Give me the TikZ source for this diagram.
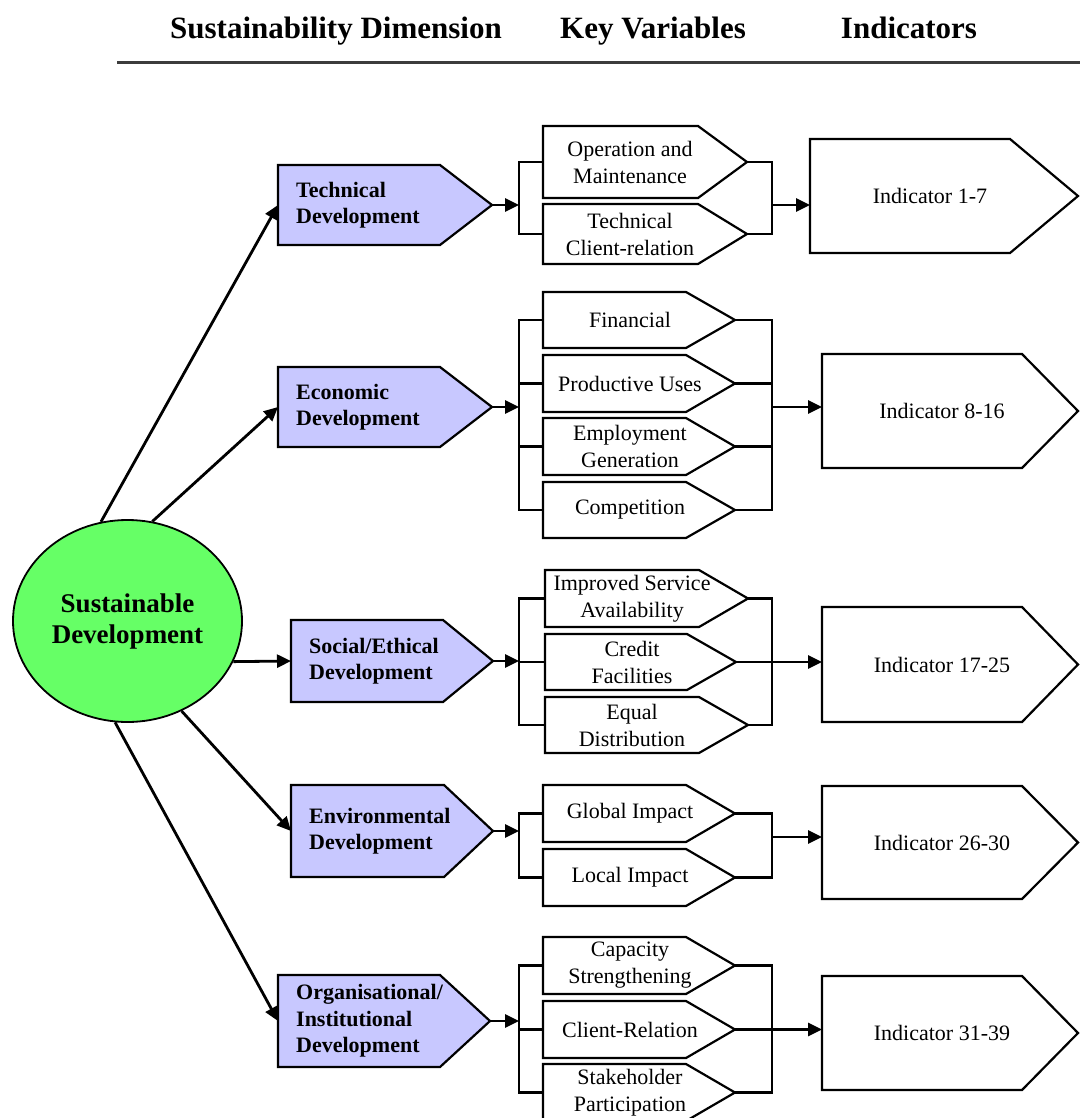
\documentclass[tikz,border=0pt]{standalone}
\usepackage{fontspec}
\setmainfont{Liberation Serif}
\usetikzlibrary{arrows.meta,shapes.geometric}
\definecolor{dimfill}{RGB}{200,200,255}
\definecolor{sdgreen}{RGB}{102,255,102}
\definecolor{rulegray}{RGB}{60,60,60}
\tikzset{
  boxline/.style={draw=black,line width=2.2pt,line join=miter},
  dimshape/.style={boxline,fill=dimfill},
  kvshape/.style={boxline,fill=white},
  dimtext/.style={anchor=west,align=left,inner sep=0pt,font=\fontsize{22}{26.5}\selectfont\bfseries},
  kvtext/.style={align=center,inner sep=0pt,font=\fontsize{22}{27}\selectfont},
  indtext/.style={align=center,inner sep=0pt,font=\fontsize{22}{27}\selectfont},
  headtext/.style={anchor=base,inner sep=0pt,font=\fontsize{31}{36}\selectfont\bfseries},
  conn/.style={line width=2.8pt,-{Triangle[length=14pt,width=13pt]}},
  brk/.style={line width=2.2pt,line cap=rect,line join=miter},
}
% name, left, top, bottom, rect end, tip, text
\newcommand{\dimbox}[7]{%
  \draw[dimshape] (#2,#3) -- (#5,#3) -- (#6,{(#3+#4)/2}) -- (#5,#4) -- (#2,#4) -- cycle;
  \coordinate (#1W) at (#2,{(#3+#4)/2});
  \coordinate (#1E) at (#6,{(#3+#4)/2});
  \node[dimtext] (#1) at ({#2+18},{(#3+#4)/2}) {#7};}
% name, left, top, bottom, tip, text
\newcommand{\kvbox}[6]{%
  \draw[kvshape] (#2,#3) -- ({#5-49},#3) -- (#5,{(#3+#4)/2}) -- ({#5-49},#4) -- (#2,#4) -- cycle;
  \coordinate (#1W) at (#2,{(#3+#4)/2});
  \coordinate (#1E) at (#5,{(#3+#4)/2});
  \node[kvtext] (#1) at ({#2+87},{(#3+#4)/2}) {#6};}
% name, left, top, bottom, text
\newcommand{\indbox}[5]{%
  \draw[kvshape] (#2,#3) -- ({#2+200},#3) -- (1078,{(#3+#4)/2}) -- ({#2+200},#4) -- (#2,#4) -- cycle;
  \coordinate (#1W) at (#2,{(#3+#4)/2});
  \coordinate (#1E) at (1078,{(#3+#4)/2});
  \node[indtext] (#1) at ({#2+120},{(#3+#4)/2}) {#5};}
\begin{document}
\begin{tikzpicture}[x=1pt,y=-1pt]
\clip (0,0) rectangle (1080,1118);
\fill[white] (0,0) rectangle (1080,1118);
% header
\node[headtext] (hd1) at (336,39) {Sustainability Dimension};
\node[headtext] (hd2) at (653,39) {Key Variables};
\node[headtext] (hd3) at (909,39) {Indicators};
\draw[line width=3pt,rulegray] (117,63) -- (1080,63);
\coordinate (L) at (519,0);
\coordinate (R) at (772,0);
% centre
\node[ellipse,draw=black,line width=1.8pt,fill=sdgreen,minimum width=229pt,minimum height=202pt,inner sep=0pt,align=center,font=\fontsize{27}{31}\selectfont\bfseries] (sd) at (127.5,621) {Sustainable\\Development};
% brackets (drawn first, boxes on top)
\coordinate (dummy) at (0,0);
% technical
\dimbox{tech}{278}{165}{245}{440}{492}{Technical\\Development}
\kvbox{opm}{543}{126}{198}{747}{Operation and\\Maintenance}
\kvbox{tcr}{543}{204}{264}{747}{Technical\\Client-relation}
\indbox{ind1}{810}{139}{253}{Indicator 1-7}
% economic
\dimbox{econ}{278}{367}{447}{440}{492}{Economic\\Development}
\kvbox{fin}{543}{292}{348}{735}{Financial}
\kvbox{pro}{543}{355}{412}{735}{Productive Uses}
\kvbox{emp}{543}{418}{475}{735}{Employment\\Generation}
\kvbox{com}{543}{482}{538}{735}{Competition}
\indbox{ind2}{822}{354}{468}{Indicator 8-16}
% social
\dimbox{soc}{291}{620}{702}{443}{493}{Social/Ethical\\Development}
\kvbox{isa}{545}{570}{627}{748}{Improved Service\\Availability}
\kvbox{cre}{545}{634}{690}{736}{Credit\\Facilities}
\kvbox{equ}{545}{697}{753}{748}{Equal\\Distribution}
\indbox{ind3}{822}{607}{722}{Indicator 17-25}
% environmental
\dimbox{env}{291}{785}{877}{444}{493}{Environmental\\Development}
\kvbox{glo}{543}{785}{842}{735}{Global Impact}
\kvbox{loc}{543}{849}{906}{735}{Local Impact}
\indbox{ind4}{822}{786}{899}{Indicator 26-30}
% organisational
\dimbox{org}{278}{975}{1067}{440}{490}{Organisational/\\Institutional\\Development}
\kvbox{cap}{543}{937}{994}{735}{Capacity\\Strengthening}
\kvbox{cli}{543}{1001}{1058}{735}{Client-Relation}
\kvbox{sta}{543}{1064}{1121}{735}{Stakeholder\\Participation}
\indbox{ind5}{822}{976}{1090}{Indicator 31-39}
% brackets
\draw[brk] (opmW) -- (opmW -| L) -- (tcrW -| L) -- (tcrW);
\draw[brk] (opmE) -- (opmE -| R) -- (tcrE -| R) -- (tcrE);
\draw[brk] (finW) -- (finW -| L) -- (comW -| L) -- (comW);
\draw[brk] (proW) -- (proW -| L);
\draw[brk] (empW) -- (empW -| L);
\draw[brk] (finE) -- (finE -| R) -- (comE -| R) -- (comE);
\draw[brk] (proE) -- (proE -| R);
\draw[brk] (empE) -- (empE -| R);
\draw[brk] (isaW) -- (isaW -| L) -- (equW -| L) -- (equW);
\draw[brk] (creW) -- (creW -| L);
\draw[brk] (isaE) -- (isaE -| R) -- (equE -| R) -- (equE);
\draw[brk] (gloW) -- (gloW -| L) -- (locW -| L) -- (locW);
\draw[brk] (gloE) -- (gloE -| R) -- (locE -| R) -- (locE);
\draw[brk] (capW) -- (capW -| L) -- (staW -| L) -- (staW);
\draw[brk] (cliW) -- (cliW -| L);
\draw[brk] (capE) -- (capE -| R) -- (staE -| R) -- (staE);
% arrows from centre
\draw[conn] (sd.105) -- (techW);
\draw[conn] (sd.76) -- (econW);
\draw[conn] (sd.-21) -- (socW);
\draw[conn] (sd.-59) -- (envW);
\draw[conn] (sd.-97) -- (orgW);
% arrows into brackets
\draw[conn] (techE) -- (techE -| L);
\draw[conn] (econE) -- (econE -| L);
\draw[conn] (socE) -- (socE -| L);
\draw[conn] (envE) -- (envE -| L);
\draw[conn] (orgE) -- (orgE -| L);
% arrows to indicators
\draw[conn] (techE -| R) -- (techE -| ind1W);
\draw[conn] (econE -| R) -- (econE -| ind2W);
\draw[conn] (creE) -- (creE -| ind3W);
\coordinate (envArr) at (772,837);
\draw[conn] (envArr) -- (envArr -| ind4W);
\draw[conn] (cliE) -- (cliE -| ind5W);
\end{tikzpicture}
\end{document}
